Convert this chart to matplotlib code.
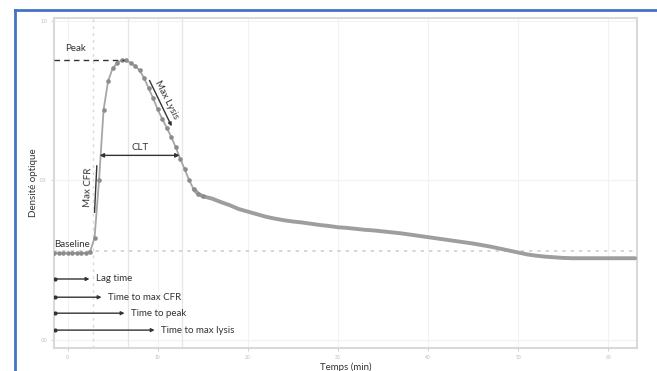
import matplotlib
matplotlib.use("Agg")
import matplotlib.pyplot as plt
from matplotlib.lines import Line2D

# ---- data ----
t_early = [-1.5, -1.0, -0.5, 0.0, 0.5, 1.0, 1.5, 2.0, 2.5, 3.0, 3.5, 4.0, 4.5, 5.0,
           5.5, 6.0, 6.5, 7.0, 7.5, 8.0, 8.5, 9.0, 9.5, 10.0, 10.5, 11.0, 11.5,
           12.0, 12.5, 13.0, 13.5, 14.0, 14.5, 15.0]
od_early = [0.272, 0.272, 0.272, 0.272, 0.272, 0.272, 0.272, 0.273, 0.276, 0.32,
            0.50, 0.72, 0.81, 0.85, 0.867, 0.875, 0.876, 0.868, 0.858, 0.844,
            0.82, 0.788, 0.757, 0.722, 0.693, 0.665, 0.636, 0.604, 0.568, 0.535,
            0.50, 0.472, 0.458, 0.45]
t_late = list(range(16, 64))
od_late = [0.443, 0.432, 0.422, 0.410, 0.402, 0.394, 0.386, 0.380, 0.375, 0.371,
           0.368, 0.364, 0.360, 0.357, 0.353, 0.351, 0.348, 0.345, 0.343, 0.340,
           0.337, 0.334, 0.330, 0.326, 0.322, 0.318, 0.314, 0.310, 0.306, 0.302,
           0.297, 0.292, 0.286, 0.280, 0.274, 0.268, 0.264, 0.261, 0.259, 0.257,
           0.256, 0.256, 0.256, 0.256, 0.256, 0.256, 0.256, 0.256]

x_ticks = [0, 10, 20, 30, 40, 50, 60]
y_ticks = [0.0, 0.5, 1.0]
y_tick_labels = ["0.0", "0.5", "1.0"]

baseline_od = 0.278
peak_od = 0.875
peak_t = 6.3
lag_t = 2.78
peak_line_t = 6.67
clt_end_t = 12.67
clt_start = 3.56
clt_end = 12.44
clt_od = 0.578

arrow_labels = ["Lag time", "Time to max CFR", "Time to peak", "Time to max lysis"]
arrow_ends = [2.44, 3.78, 6.33, 9.67]
arrow_y = [0.191, 0.134, 0.084, 0.031]
arrow_start = -1.44

FONT = "Lato"
plt.rcParams["font.family"] = [FONT, "DejaVu Sans"]

fig = plt.figure(figsize=(6.57, 3.71), dpi=100)
ax = fig.add_axes([54/657, 1-348/371, (637-54)/657, (348-18)/371])

# blue frame (left and top)
fig.add_artist(Line2D([15/657, 15/657], [0, 1-10/371], transform=fig.transFigure,
                      color="#4472c4", lw=2))
fig.add_artist(Line2D([15/657, 1], [1-10/371, 1-10/371], transform=fig.transFigure,
                      color="#4472c4", lw=2))

ax.set_xlim(-1.5, 63.2)
ax.set_ylim(-0.025, 1.008)

# grid
for xt in x_ticks:
    ax.axvline(xt, color="#f2f2f2", lw=0.8, zorder=0)
for yt in y_ticks:
    ax.axhline(yt, color="#f2f2f2", lw=0.8, zorder=0)
ax.axvline(peak_line_t, color="#e6e6e6", lw=0.9, zorder=0)
ax.axvline(clt_end_t, color="#e6e6e6", lw=0.9, zorder=0)
ax.axvline(lag_t, color="#d9d9d9", lw=1.0, ls=(0, (2, 3)), zorder=0)
ax.axhline(baseline_od, color="#cfcfcf", lw=1.2, ls=(0, (2, 3)), zorder=0)

# curve
ax.plot(t_early + [t_late[0]], od_early + [od_late[0]], color="#a6a6a6", lw=1.3,
        zorder=3)
ax.plot(t_early[-3:] + t_late, od_early[-3:] + od_late, color="#9e9e9e", lw=2.8,
        zorder=3, solid_capstyle="round")
ax.plot(t_early, od_early, "o", color="#8c8c8c", ms=2.3, zorder=4)

# Peak
ax.plot([-1.5, peak_t], [peak_od, peak_od], color="#333333", lw=1.0, ls=(0, (4, 3)), zorder=5)
ax.text(-0.25, 0.898, "Peak", fontsize=7, color="#333333", ha="left", va="bottom")

# Baseline
ax.text(-1.45, 0.298, "Baseline", fontsize=7, color="#333333", ha="left", va="center")

# Max CFR
ax.text(2.3, 0.478, "Max CFR", fontsize=7, color="#333333", rotation=88,
        ha="center", va="center", rotation_mode="anchor")
ax.plot([3.0, 3.25], [0.40, 0.545], color="#333333", lw=1.0, zorder=5)

# Max Lysis
ax.text(10.95, 0.752, "Max Lysis", fontsize=7, color="#333333", rotation=-63,
        ha="center", va="center", rotation_mode="anchor")
ax.annotate("", xy=(11.56, 0.669), xytext=(9.1, 0.8125),
            arrowprops=dict(arrowstyle="-|>", color="#333333", lw=1.0,
                            mutation_scale=5, shrinkA=0, shrinkB=0), zorder=5)

# CLT
ax.annotate("", xy=(clt_end, clt_od), xytext=(clt_start, clt_od),
            arrowprops=dict(arrowstyle="<|-|>", color="#333333", lw=1.0,
                            mutation_scale=6, shrinkA=0, shrinkB=0), zorder=5)
ax.text((clt_start + clt_end) / 2, clt_od + 0.012, "CLT", fontsize=7, color="#333333",
        ha="center", va="bottom")

# time arrows
for lab, xe, yv in zip(arrow_labels, arrow_ends, arrow_y):
    ax.annotate("", xy=(xe, yv), xytext=(arrow_start, yv),
                arrowprops=dict(arrowstyle="-|>", color="#333333", lw=1.0,
                                mutation_scale=5, shrinkA=0, shrinkB=0), zorder=5)
    ax.plot([arrow_start + 0.1], [yv], "o", color="#333333", ms=2, zorder=5)
    ax.text(xe + 0.7, yv, lab, fontsize=7, color="#333333", ha="left", va="center")

# axes styling
ax.set_xticks(x_ticks)
ax.set_xticklabels([str(v) for v in x_ticks])
ax.set_yticks(y_ticks)
ax.set_yticklabels(y_tick_labels)
ax.tick_params(axis="both", labelsize=3.5, colors="#bbbbbb", length=2, width=0.5,
               pad=3)
for sp in ax.spines.values():
    sp.set_color("#d9d9d9")
    sp.set_linewidth(1.5)

ax.set_xlabel("Temps (min)", fontsize=7, color="#333333", labelpad=2)
ax.set_ylabel("Densité optique", fontsize=7, color="#333333", labelpad=2)

fig.savefig("out.png", dpi=100, facecolor="white")
